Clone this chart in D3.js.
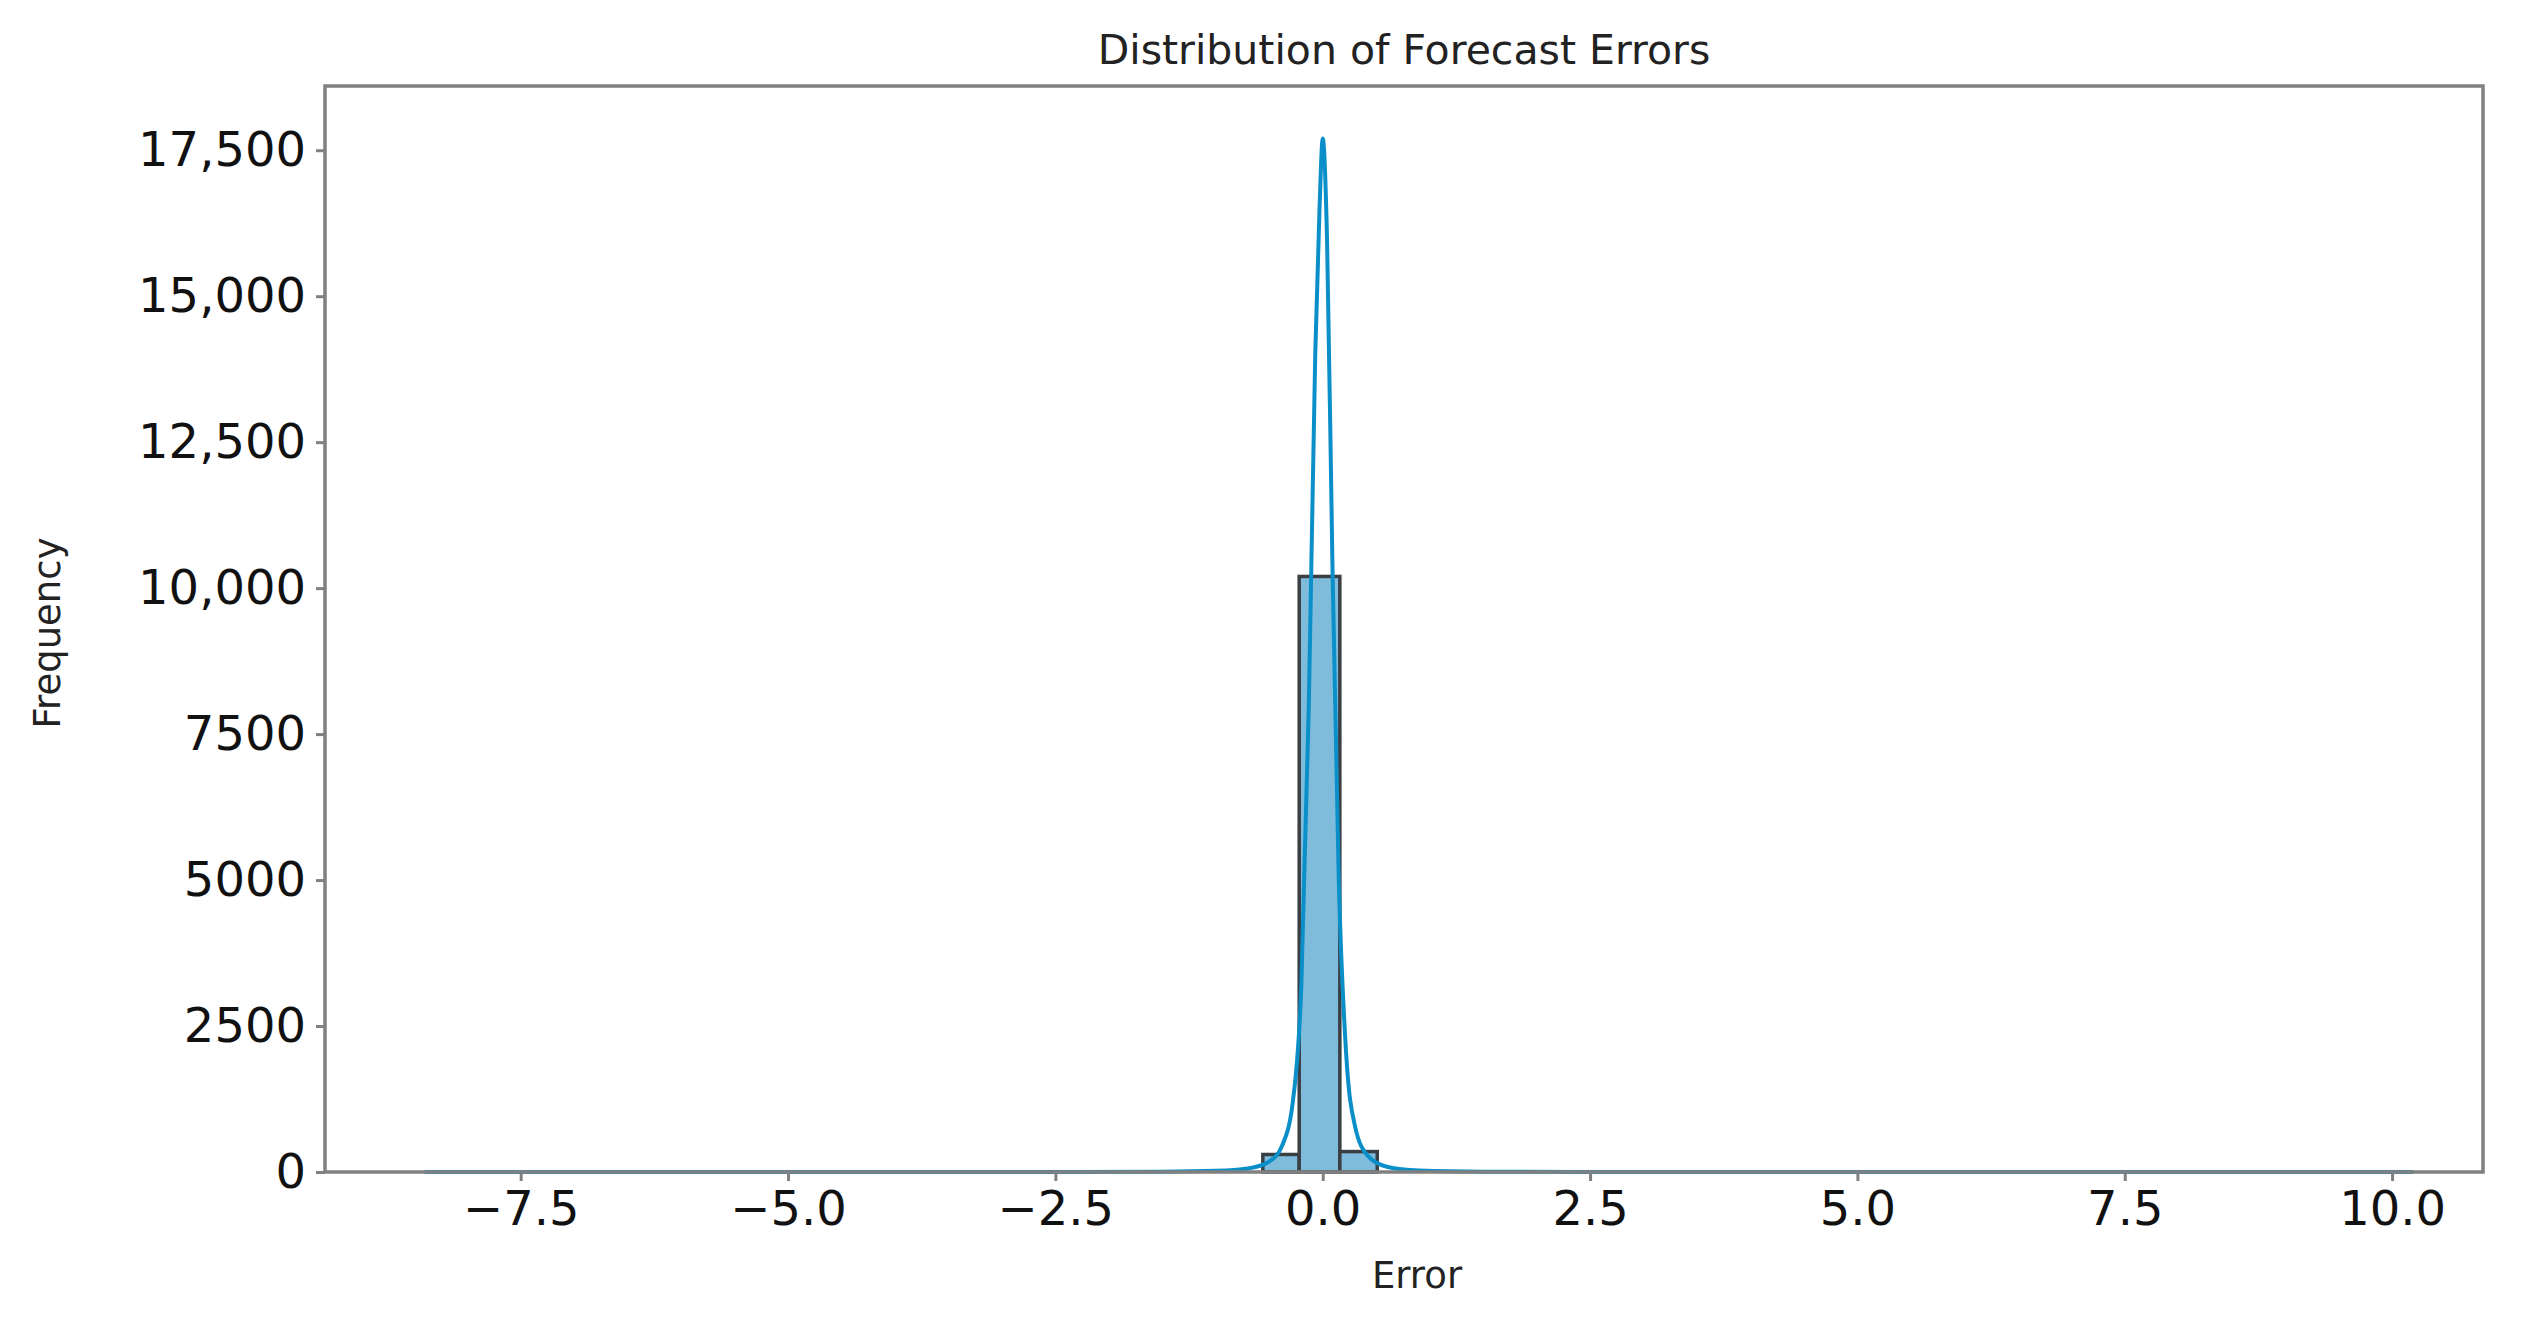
<!DOCTYPE html>
<html><head><meta charset="utf-8">
<script src="https://cdn.jsdelivr.net/npm/d3@7"></script>
<style>body{margin:0;background:#fff}svg{display:block}</style>
</head><body>
<script>
// histogram bins (edges) and counts
const binStarts = [-0.56, -0.22, 0.16];
const binEnds = [-0.22, 0.16, 0.51];
const binCounts = [300, 10200, 350];

// kde curve
const kdeX = [-8.4, -3, -1.5, -1.0, -0.7, -0.5, -0.38, -0.28, -0.2, -0.13, -0.07, -0.03, 0.0, 0.04, 0.09, 0.15, 0.22, 0.3, 0.42, 0.6, 0.9, 1.5, 3, 10.2];
const kdeY = [0, 0, 5, 20, 60, 180, 450, 1200, 3200, 8000, 14000, 16500, 17700, 16000, 10500, 5000, 2000, 800, 280, 90, 25, 5, 0, 0];

const xTicks = [-7.5, -5.0, -2.5, 0.0, 2.5, 5.0, 7.5, 10.0];
const yTicks = [0, 2500, 5000, 7500, 10000, 12500, 15000, 17500];

const W = 2545, H = 1323;
const m = {left: 325, right: W - 2483, top: 86, bottom: H - 1172};

const svg = d3.select('body').append('svg').attr('width', W).attr('height', H)
  .style('font-family', 'DejaVu Sans');

const x = d3.scaleLinear().domain([-9.33, 10.85]).range([m.left, W - m.right]);
const y = d3.scaleLinear().domain([0, 18600]).range([H - m.bottom, m.top]);

// bars
svg.append('g').selectAll('rect').data(binCounts).join('rect')
  .attr('x', (d, i) => x(binStarts[i]))
  .attr('width', (d, i) => x(binEnds[i]) - x(binStarts[i]))
  .attr('y', d => y(d))
  .attr('height', d => y(0) - y(d))
  .attr('fill', '#7fbcdc')
  .attr('stroke', '#3a3f44')
  .attr('stroke-width', 3.5);

// kde line
const line = d3.line().x(d => x(d[0])).y(d => y(d[1])).curve(d3.curveMonotoneX);
svg.append('path').datum(d3.zip(kdeX, kdeY))
  .attr('d', line).attr('fill', 'none')
  .attr('stroke', '#0a8fc8').attr('stroke-width', 4);

// frame
svg.append('rect').attr('x', m.left).attr('y', m.top)
  .attr('width', W - m.left - m.right).attr('height', H - m.top - m.bottom)
  .attr('fill', 'none').attr('stroke', '#808080').attr('stroke-width', 3.5);

const fmt = d => d >= 10000 ? d3.format(',')(d) : String(d);
const xa = svg.append('g').attr('transform', `translate(0,${H - m.bottom})`)
  .call(d3.axisBottom(x).tickValues(xTicks).tickFormat(d => d3.format('.1f')(d).replace('-', '\u2212')).tickSize(9).tickPadding(10));
const ya = svg.append('g').attr('transform', `translate(${m.left},0)`)
  .call(d3.axisLeft(y).tickValues(yTicks).tickFormat(fmt).tickSize(9).tickPadding(10));
[xa, ya].forEach(a => {
  a.select('.domain').remove();
  a.selectAll('line').attr('stroke', '#808080').attr('stroke-width', 3);
  a.selectAll('text').attr('font-size', 48).attr('fill', '#111').attr('font-family', 'DejaVu Sans');
});

svg.append('text').attr('x', (m.left + W - m.right) / 2).attr('y', 64)
  .attr('text-anchor', 'middle').attr('font-size', 41).attr('fill', '#222')
  .text('Distribution of Forecast Errors');
svg.append('text').attr('x', 1417).attr('y', 1288)
  .attr('text-anchor', 'middle').attr('font-size', 37).attr('fill', '#222').text('Error');
svg.append('text').attr('transform', 'translate(60,633) rotate(-90)')
  .attr('text-anchor', 'middle').attr('font-size', 37).attr('fill', '#222').text('Frequency');
</script>
</body></html>
